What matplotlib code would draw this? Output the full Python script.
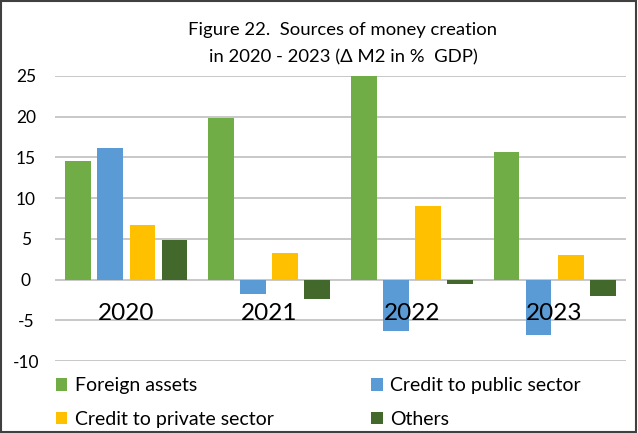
import numpy as np
import matplotlib.pyplot as plt
from matplotlib.patches import Rectangle

plt.rcParams['font.family'] = ['Lato', 'DejaVu Sans']
plt.rcParams['axes.unicode_minus'] = False

years = ['2020', '2021', '2022', '2023']
series = ['Foreign assets', 'Credit to public sector',
          'Credit to private sector', 'Others']
foreign_assets = [14.6, 19.9, 25.0, 15.7]
credit_public = [16.1, -1.8, -6.3, -6.8]
credit_private = [6.7, 3.3, 9.0, 3.0]
others = [4.9, -2.4, -0.6, -2.0]

colors = ['#70AD47', '#5B9BD5', '#FFC000', '#43682B']
values = [foreign_assets, credit_public, credit_private, others]

fig = plt.figure(figsize=(6.38, 4.33), dpi=100)
ax = fig.add_axes([55 / 638, 1 - 361 / 433, 571 / 638, 285 / 433])

x = np.arange(len(years))
step = 0.225
width = 0.18
bars = []
for i, (name, vals, c) in enumerate(zip(series, values, colors)):
    bars.append(ax.bar(x + (i - 1.5) * step, vals, width, color=c,
                       label=name, zorder=2))

# year labels sit inside the plot, under the zero line
for xi, yr in zip(x, years):
    ax.text(xi, -4.2, yr, ha='center', va='center', fontsize=17.5, zorder=3)

ax.set_xlim(-0.5, 3.5)
ax.set_ylim(-10, 25)
ax.set_yticks(range(-10, 30, 5))
ax.set_xticks([])
ax.tick_params(axis='y', length=0, labelsize=12.5, pad=21)
for lbl in ax.get_yticklabels():
    lbl.set_horizontalalignment('center')
ax.grid(axis='y', color='#BFBFBF', linewidth=1.2, zorder=0)
ax.set_axisbelow(True)
for s in ax.spines.values():
    s.set_visible(False)

fig.text(343 / 638, 1 - 30 / 433, 'Figure 22.  Sources of money creation',
         ha='center', va='center', fontsize=13.3)
fig.text(343 / 638, 1 - 57 / 433, 'in 2020 - 2023 (\u0394 M2 in %  GDP)',
         ha='center', va='center', fontsize=13.3)

# legend fills column-wise, so order handles to get rows FA/public, private/others
order = [0, 2, 1, 3]
fig.legend([bars[k] for k in order], [series[k] for k in order],
           loc='upper left', bbox_to_anchor=(38 / 638, 1 - 360 / 433), ncol=2,
           frameon=False, fontsize=14, handlelength=0.6, handleheight=0.6,
           handletextpad=0.4, columnspacing=5.0, labelspacing=0.85)

# outer frame
fig.patches.append(Rectangle((0.002, 0.002), 0.995, 0.995, transform=fig.transFigure,
                             fill=False, edgecolor='#404040', linewidth=1.5))

fig.savefig('out.png', dpi=100)
